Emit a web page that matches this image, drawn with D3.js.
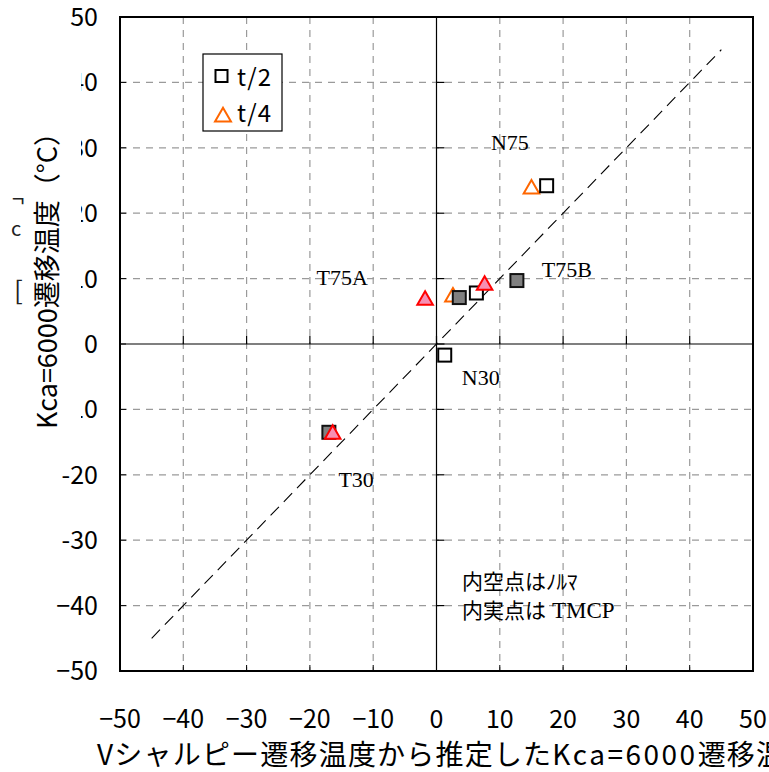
<!DOCTYPE html>
<html>
<head>
<meta charset="utf-8">
<script src="https://cdn.jsdelivr.net/npm/d3@7"></script>
<style>
  body { margin: 0; background: #fff; }
  svg { display: block; }
</style>
</head>
<body>
<svg id="chart" width="769" height="772"></svg>
<script>
// axis ticks and labels
var xTicks = [-50, -40, -30, -20, -10, 0, 10, 20, 30, 40, 50];
var xTickLabels = ["−50", "−40", "−30", "−20", "−10", "0", "10", "20", "30", "40", "50"];
var yTicks = [-50, -40, -30, -20, -10, 0, 10, 20, 30, 40, 50];
var yTickLabels = ["−50", "−40", "-30", "-20", "-10", "0", "10", "20", "30", "40", "50"];

// t/2 normalized (open squares)
var t2OpenX = [17.4, 6.3, 1.3];
var t2OpenY = [24.2, 7.8, -1.7];
// t/2 TMCP (filled squares)
var t2FillX = [3.6, 12.7, -17.0];
var t2FillY = [7.1, 9.7, -13.5];
// t/4 normalized (open triangles)
var t4OpenX = [15.0, 2.6];
var t4OpenY = [24.0, 7.5];
// t/4 TMCP (filled triangles)
var t4FillX = [-1.8, 7.6, -16.4];
var t4FillY = [7.0, 9.3, -13.5];

// 1:1 line
var diagX = [-45, 45];
var diagY = [-45, 45];

// specimen labels
var labelNames = ["N75", "T75A", "T75B", "N30", "T30"];
var labelX = [11.6, -14.9, 20.6, 7.0, -12.7];
var labelY = [30.7, 10.1, 11.3, -5.2, -20.8];

var svg = d3.select("#chart");
var pL = 120, pR = 753, pT = 17, pB = 671;

var x = d3.scaleLinear().domain([-50, 50]).range([pL, pR]);
var y = d3.scaleLinear().domain([-50, 50]).range([pB, pT]);

var sans = "'Noto Sans CJK JP', 'Noto Sans', sans-serif";
var serif = "'Liberation Serif', 'DejaVu Serif', serif";

// grid
var grid = svg.append("g");
grid.selectAll("line.gx").data(xTicks.filter(function(d) { return d !== 0 && Math.abs(d) < 50; }))
  .enter().append("line")
  .attr("x1", function(d) { return x(d); }).attr("x2", function(d) { return x(d); })
  .attr("y1", pT).attr("y2", pB)
  .attr("stroke", "#9a9a9a").attr("stroke-width", 1.2).attr("stroke-dasharray", "7,6");
grid.selectAll("line.gy").data(yTicks.filter(function(d) { return d !== 0 && Math.abs(d) < 50; }))
  .enter().append("line")
  .attr("y1", function(d) { return y(d); }).attr("y2", function(d) { return y(d); })
  .attr("x1", pL).attr("x2", pR)
  .attr("stroke", "#9a9a9a").attr("stroke-width", 1.2).attr("stroke-dasharray", "7,6");

// zero axes
svg.append("line").attr("x1", x(0)).attr("x2", x(0)).attr("y1", pT).attr("y2", pB)
  .attr("stroke", "#000").attr("stroke-width", 1.2);
svg.append("line").attr("x1", pL).attr("x2", pR).attr("y1", y(0)).attr("y2", y(0))
  .attr("stroke", "#000").attr("stroke-width", 1.2);

// ticks on the zero axes
svg.append("g").selectAll("line").data(yTicks).enter().append("line")
  .attr("x1", x(0)).attr("x2", x(0) + 8)
  .attr("y1", function(d) { return y(d); }).attr("y2", function(d) { return y(d); })
  .attr("stroke", "#000").attr("stroke-width", 1.2);
svg.append("g").selectAll("line").data(xTicks).enter().append("line")
  .attr("y1", y(0)).attr("y2", y(0) - 8)
  .attr("x1", function(d) { return x(d); }).attr("x2", function(d) { return x(d); })
  .attr("stroke", "#000").attr("stroke-width", 1.2);

// frame ticks
svg.append("g").selectAll("line").data(yTicks).enter().append("line")
  .attr("x1", pL).attr("x2", pL + 6)
  .attr("y1", function(d) { return y(d); }).attr("y2", function(d) { return y(d); })
  .attr("stroke", "#000").attr("stroke-width", 1);
svg.append("g").selectAll("line").data(xTicks).enter().append("line")
  .attr("y1", pB).attr("y2", pB - 6)
  .attr("x1", function(d) { return x(d); }).attr("x2", function(d) { return x(d); })
  .attr("stroke", "#000").attr("stroke-width", 1);

// diagonal
svg.append("line")
  .attr("x1", x(diagX[0])).attr("y1", y(diagY[0]))
  .attr("x2", x(diagX[1])).attr("y2", y(diagY[1]))
  .attr("stroke", "#000").attr("stroke-width", 1.1).attr("stroke-dasharray", "12,7");

// frame
svg.append("rect").attr("x", pL).attr("y", pT)
  .attr("width", pR - pL).attr("height", pB - pT)
  .attr("fill", "none").attr("stroke", "#000").attr("stroke-width", 2);

// markers
var sq = 13;
var tri = d3.symbol().type(d3.symbolTriangle).size(105);

function pts(xs, ys) { return xs.map(function(v, i) { return [v, ys[i]]; }); }

svg.append("g").selectAll("path").data(pts(t4OpenX, t4OpenY)).enter().append("path")
  .attr("d", tri)
  .attr("transform", function(d) { return "translate(" + x(d[0]) + "," + (y(d[1]) + 2) + ")"; })
  .attr("fill", "#fff").attr("stroke", "#ff6600").attr("stroke-width", 2);

svg.append("g").selectAll("rect").data(pts(t2OpenX, t2OpenY)).enter().append("rect")
  .attr("x", function(d) { return x(d[0]) - sq / 2; })
  .attr("y", function(d) { return y(d[1]) - sq / 2; })
  .attr("width", sq).attr("height", sq)
  .attr("fill", "#fff").attr("stroke", "#000").attr("stroke-width", 2);

svg.append("g").selectAll("rect").data(pts(t2FillX, t2FillY)).enter().append("rect")
  .attr("x", function(d) { return x(d[0]) - sq / 2; })
  .attr("y", function(d) { return y(d[1]) - sq / 2; })
  .attr("width", sq).attr("height", sq)
  .attr("fill", "#808080").attr("stroke", "#111").attr("stroke-width", 2);

svg.append("g").selectAll("path").data(pts(t4FillX, t4FillY)).enter().append("path")
  .attr("d", tri)
  .attr("transform", function(d) { return "translate(" + x(d[0]) + "," + (y(d[1]) + 2) + ")"; })
  .attr("fill", "#f78fb3").attr("stroke", "#ff0000").attr("stroke-width", 2);

// specimen labels
svg.append("g").selectAll("text").data(labelNames).enter().append("text")
  .attr("x", function(d, i) { return x(labelX[i]); })
  .attr("y", function(d, i) { return y(labelY[i]) + 7; })
  .attr("text-anchor", "middle")
  .attr("font-family", serif).attr("font-size", 22)
  .text(function(d) { return d; });

// note
var note = svg.append("g");
note.append("text").attr("x", 462).attr("y", 589).attr("font-family", sans).attr("font-size", 21)
  .text("内空点はﾉﾙﾏ");
var n2 = note.append("text").attr("x", 462).attr("y", 618);
n2.append("tspan").attr("font-family", sans).attr("font-size", 21).text("内実点は");
n2.append("tspan").attr("font-family", serif).attr("font-size", 23).attr("dx", 6).text("TMCP");

// legend
var lg = svg.append("g");
lg.append("rect").attr("x", 203).attr("y", 54).attr("width", 79).attr("height", 77)
  .attr("fill", "#fff").attr("stroke", "#000").attr("stroke-width", 1.2);
lg.append("rect").attr("x", 215.5).attr("y", 70).attr("width", 12).attr("height", 12)
  .attr("fill", "#fff").attr("stroke", "#000").attr("stroke-width", 2);
lg.append("path").attr("d", d3.symbol().type(d3.symbolTriangle).size(110))
  .attr("transform", "translate(223,117)")
  .attr("fill", "#fff").attr("stroke", "#ff6600").attr("stroke-width", 2);
lg.append("text").attr("x", 237).attr("y", 86).attr("font-family", sans).attr("font-size", 24)
  .attr("letter-spacing", 1).text("t/2");
lg.append("text").attr("x", 237).attr("y", 122).attr("font-family", sans).attr("font-size", 24)
  .attr("letter-spacing", 1).text("t/4");

// tick labels
svg.append("g").selectAll("text").data(xTicks).enter().append("text")
  .attr("x", function(d) { return x(d); }).attr("y", 728)
  .attr("text-anchor", "middle")
  .attr("font-family", sans).attr("font-size", 25)
  .text(function(d, i) { return xTickLabels[i]; });
svg.append("g").selectAll("text").data(yTicks).enter().append("text")
  .attr("x", 98).attr("y", function(d) { return y(d) + 9; })
  .attr("text-anchor", "end")
  .attr("font-family", sans).attr("font-size", 25)
  .text(function(d, i) { return yTickLabels[i]; });

// old unit label fragments peeking out
var frag = svg.append("g").attr("font-family", sans).attr("fill", "#222");
frag.append("text").attr("x", 12).attr("y", 207).attr("font-size", 22).text("¬");
frag.append("text").attr("x", 11).attr("y", 236).attr("font-size", 20).text("c");
frag.append("text").attr("x", 14).attr("y", 300).attr("font-size", 26).text("[");

// y title box covers part of the tick labels
svg.append("rect").attr("x", 29).attr("y", 64).attr("width", 52).attr("height", 360).attr("fill", "#fff");
svg.append("text")
  .attr("transform", "translate(45,274) rotate(-90)")
  .attr("text-anchor", "middle").attr("dominant-baseline", "central")
  .attr("font-family", sans).attr("font-size", 27)
  .text("Kca=6000遷移温度（°C）");

// x title (runs past the right edge)
var xt = svg.append("text").attr("x", 97).attr("y", 765)
  .attr("font-family", sans).attr("font-size", 28).attr("letter-spacing", 1.2);
xt.append("tspan").text("Vシャルピー遷移温度から推定した");
xt.append("tspan").attr("letter-spacing", 2.5).text("Kca=6000");
xt.append("tspan").text("遷移温度（°C）");
</script>
</body>
</html>
